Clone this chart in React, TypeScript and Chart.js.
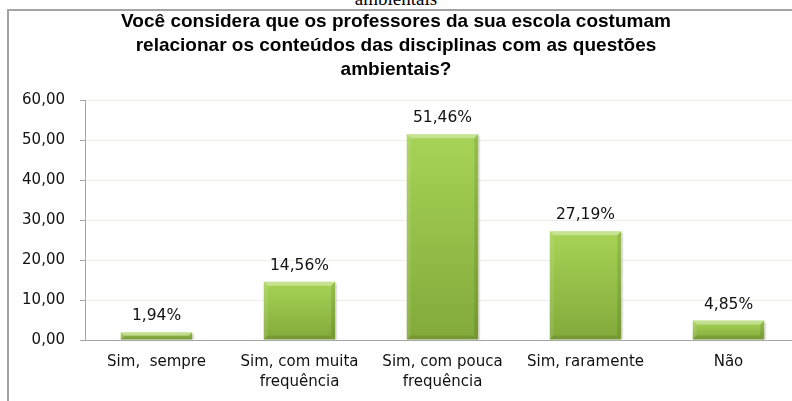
import React, { useEffect, useRef } from "react";
import { Chart, registerables } from "chart.js";

Chart.register(...registerables);

const titleLines = [
  "Você considera que os professores da sua escola costumam",
  "relacionar os conteúdos das disciplinas com as questões",
  "ambientais?",
];
const categories: string[][] = [
  ["Sim,  sempre"],
  ["Sim, com muita", "frequência"],
  ["Sim, com pouca", "frequência"],
  ["Sim, raramente"],
  ["Não"],
];
const values = [1.94, 14.56, 51.46, 27.19, 4.85];
const yMin = 0;
const yMax = 60;
const yStep = 10;
const clippedCaption = "ambientais";

const fmt = (v: number) => v.toFixed(2).replace(".", ",");

const bevelPlugin = {
  id: "bevel",
  beforeDatasetsDraw(chart: any) {
    const ctx = chart.ctx;
    const meta = chart.getDatasetMeta(0);
    ctx.save();
    meta.data.forEach((el: any) => {
      const { x, y, base, width } = el.getProps(["x", "y", "base", "width"], true);
      const right = x + width / 2;
      ctx.fillStyle = "rgba(0,0,0,0.12)";
      ctx.fillRect(right, y + 2, 2, base - y - 2);
    });
    ctx.restore();
  },
  afterDatasetsDraw(chart: any) {
    const ctx = chart.ctx;
    const meta = chart.getDatasetMeta(0);
    ctx.save();
    meta.data.forEach((el: any, i: number) => {
      const { x, y, base, width } = el.getProps(["x", "y", "base", "width"], true);
      const l = x - width / 2;
      const r = x + width / 2;
      const t = y;
      const b = base;
      const bv = Math.min(4, (b - t) / 2);
      const poly = (pts: number[][], fill: string) => {
        ctx.beginPath();
        ctx.moveTo(pts[0][0], pts[0][1]);
        for (let k = 1; k < pts.length; k++) ctx.lineTo(pts[k][0], pts[k][1]);
        ctx.closePath();
        ctx.fillStyle = fill;
        ctx.fill();
      };
      poly([[l, t], [r, t], [r - bv, t + bv], [l + bv, t + bv]], "rgba(255,255,255,0.35)");
      poly([[l, t], [l + bv, t + bv], [l + bv, b - bv], [l, b]], "rgba(255,255,255,0.1)");
      poly([[r, t], [r, b], [r - bv, b - bv], [r - bv, t + bv]], "rgba(0,0,0,0.1)");
      poly([[l, b], [r, b], [r - bv, b - bv], [l + bv, b - bv]], "rgba(0,0,0,0.1)");

      ctx.fillStyle = "#111111";
      ctx.font = '15.5px "DejaVu Sans", sans-serif';
      ctx.textAlign = "center";
      ctx.textBaseline = "middle";
      ctx.fillText(fmt(values[i]) + "%", x, t - 16);
    });
    ctx.restore();
  },
};

export default function App() {
  const ref = useRef<HTMLCanvasElement>(null);

  useEffect(() => {
    if (!ref.current) return;
    const chart = new Chart(ref.current, {
      type: "bar",
      data: {
        labels: categories,
        datasets: [
          {
            data: values,
            barPercentage: 0.5,
            categoryPercentage: 1,
            borderWidth: 0,
            backgroundColor: (c: any) => {
              const ch = c.chart;
              if (c.type !== "data" || !ch.scales || !ch.scales.y) return "#95c143";
              const v = values[c.dataIndex];
              const top = ch.scales.y.getPixelForValue(v);
              const bot = ch.scales.y.getPixelForValue(0);
              if (!isFinite(top) || !isFinite(bot) || top === bot) return "#95c143";
              const g = ch.ctx.createLinearGradient(0, top, 0, bot);
              g.addColorStop(0, "#a7d457");
              g.addColorStop(1, "#82a93a");
              return g;
            },
          },
        ],
      },
      options: {
        responsive: false,
        animation: false,
        layout: { padding: { left: 0, right: 8, top: 0, bottom: 0 } },
        plugins: {
          legend: { display: false },
          tooltip: { enabled: false },
          title: {
            display: true,
            text: titleLines,
            color: "#000000",
            font: { family: '"Liberation Sans", Arial, sans-serif', size: 19, weight: "bold", lineHeight: 24 / 19 },
            padding: { top: 10, bottom: 18 },
          },
        },
        scales: {
          x: {
            grid: { display: false, drawTicks: false },
            border: { display: true, color: "#a6a6a6", width: 1 },
            ticks: {
              color: "#111111",
              font: { family: '"DejaVu Sans", sans-serif', size: 15, lineHeight: 20 / 15 },
              padding: 12,
              maxRotation: 0,
              autoSkip: false,
            },
            afterFit: (s: any) => {
              s.height = 61;
            },
          },
          y: {
            min: yMin,
            max: yMax,
            grid: { color: "#efeee4", tickColor: "#a6a6a6", tickLength: 5, lineWidth: 1 },
            border: { display: true, color: "#a6a6a6", width: 1 },
            ticks: {
              stepSize: yStep,
              color: "#111111",
              font: { family: '"DejaVu Sans", sans-serif', size: 15 },
              padding: 15,
              callback: (v: any) => fmt(Number(v)),
            },
            afterFit: (s: any) => {
              s.width = 93;
            },
          },
        },
      },
      plugins: [bevelPlugin],
    });
    return () => chart.destroy();
  }, []);

  return (
    <div
      style={{
        position: "fixed",
        left: 0,
        top: 0,
        width: 792,
        height: 401,
        overflow: "hidden",
        background: "#ffffff",
      }}
    >
      <div
        style={{
          position: "absolute",
          left: 0,
          width: 792,
          top: -11,
          textAlign: "center",
          fontFamily: '"Liberation Serif", "Times New Roman", serif',
          fontSize: 19,
          lineHeight: "20px",
          color: "#000",
        }}
      >
        {clippedCaption}
      </div>
      <div
        style={{
          position: "absolute",
          left: 7,
          top: 9,
          width: 900,
          height: 500,
          borderLeft: "2px solid #a3a3a3",
          borderTop: "2px solid #a3a3a3",
        }}
      />
      <canvas ref={ref} width={816} height={401} style={{ position: "absolute", left: -8, top: 0 }} />
    </div>
  );
}
